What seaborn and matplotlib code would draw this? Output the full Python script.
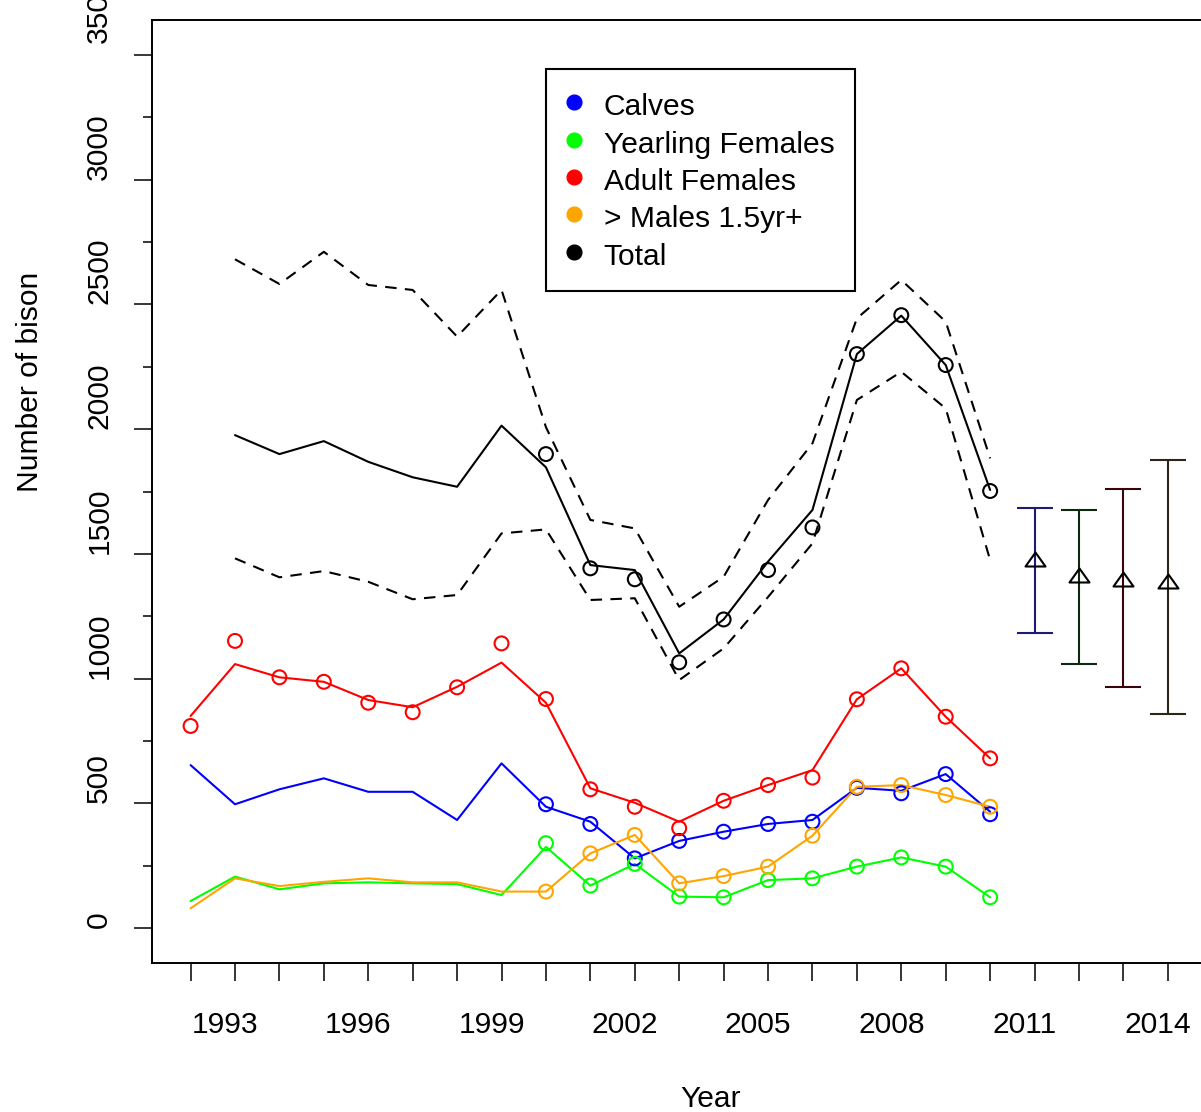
import numpy as np
import pandas as pd
import matplotlib
matplotlib.use("Agg")
import matplotlib.pyplot as plt
import seaborn as sns
from matplotlib.lines import Line2D
from matplotlib.path import Path
from matplotlib.ticker import FixedLocator
from matplotlib.transforms import ScaledTranslation

# ---------------- data ----------------
years_all = list(range(1992, 2011))          # 1992..2010
years_total = list(range(1993, 2011))        # 1993..2010
years_obs = list(range(2000, 2011))          # 2000..2010

calves_line = [653, 496, 556, 600, 546, 546, 433, 660, 486, 426, 279, 349, 386, 417, 433, 562, 550, 617, 466]
calves_obs = [496, 417, 279, 349, 386, 417, 426, 562, 540, 617, 456]

yearling_line = [108, 206, 155, 179, 183, 179, 176, 132, 325, 170, 257, 126, 123, 192, 199, 246, 283, 246, 123]
yearling_obs = [340, 170, 257, 126, 123, 192, 199, 246, 283, 246, 123]

adult_line = [850, 1058, 1005, 987, 914, 885, 967, 1064, 903, 560, 502, 426, 510, 573, 633, 917, 1041, 847, 680]
adult_obs = [810, 1151, 1005, 987, 903, 865, 965, 1141, 918, 556, 486, 400, 510, 573, 603, 917, 1041, 847, 680]

males_line = [79, 199, 168, 185, 199, 183, 183, 146, 146, 299, 373, 179, 208, 246, 370, 566, 573, 533, 486]
males_obs = [146, 299, 373, 179, 208, 246, 370, 566, 573, 533, 486]

total_line = [1976, 1900, 1952, 1869, 1807, 1769, 2014, 1847, 1455, 1435, 1101, 1237, 1469, 1676, 2301, 2455, 2257, 1756]
total_upper = [2681, 2582, 2711, 2578, 2558, 2371, 2558, 2008, 1636, 1602, 1288, 1408, 1716, 1943, 2444, 2598, 2431, 1883]
total_lower = [1482, 1406, 1431, 1388, 1318, 1335, 1582, 1598, 1315, 1322, 994, 1121, 1327, 1542, 2117, 2230, 2083, 1475]
total_obs = [1900, 1442, 1398, 1065, 1237, 1435, 1606, 2301, 2457, 2257, 1752]

proj_years = [2011, 2012, 2013, 2014]
proj_mean = [1480, 1415, 1400, 1392]
proj_low = [1181, 1057, 965, 857]
proj_high = [1683, 1676, 1760, 1876]
proj_bar_colors = ["#1c1c74", "#0c2a0e", "#3a0508", "#2c2618"]
proj_cap_colors = ["#1c1c74", "#2f6a32", "#6a0a16", "#5a4c32"]

legend_labels = ["Calves", "Yearling Females", "Adult Females", "> Males 1.5yr+", "Total"]
legend_colors = ["#0000FF", "#00FF00", "#FF0000", "#FFA500", "#000000"]

tick_years = list(range(1992, 2015))
label_years = [1993, 1996, 1999, 2002, 2005, 2008, 2011, 2014]
y_major = list(range(0, 3501, 500))
y_minor = list(range(250, 3251, 500))

# ---------------- style ----------------
sns.set_theme(style="ticks", rc={
    "axes.edgecolor": "black", "text.color": "black", "axes.labelcolor": "black",
    "xtick.color": "black", "ytick.color": "black",
})
plt.rcParams["font.family"] = ["Liberation Sans", "DejaVu Sans"]
FS = 21.6

W, H = 1201, 1112
fig = plt.figure(figsize=(W / 100, H / 100), dpi=100)
ax = fig.add_axes([151.5 / W, (H - 962.9) / H, 1055.4 / W, 942.8 / H])

LW = 1.5
MS = 100  # circle marker area (pt^2)

series = [
    (years_all, calves_line, years_obs, calves_obs, "#0000FF"),
    (years_all, yearling_line, years_obs, yearling_obs, "#00FF00"),
    (years_all, adult_line, years_all, adult_obs, "#FF0000"),
    (years_all, males_line, years_obs, males_obs, "#FFA500"),
]

# Total: model line, confidence band (dashed) and observed counts
df_tot = pd.DataFrame({"year": years_total, "mid": total_line, "up": total_upper, "lo": total_lower})
sns.lineplot(data=df_tot, x="year", y="up", ax=ax, color="black", lw=LW,
             linestyle=(0, (5.5, 4)), legend=False)
sns.lineplot(data=df_tot, x="year", y="lo", ax=ax, color="black", lw=LW,
             linestyle=(0, (5.5, 4)), legend=False)
sns.lineplot(data=df_tot, x="year", y="mid", ax=ax, color="black", lw=LW, legend=False)
sns.scatterplot(x=years_obs, y=total_obs, ax=ax, s=MS, marker="o",
                facecolor="none", edgecolor="black", linewidth=LW, legend=False, zorder=3)

for xl, yl, xo, yo, c in series:
    sns.lineplot(x=xl, y=yl, ax=ax, color=c, lw=LW, legend=False)
    sns.scatterplot(x=xo, y=yo, ax=ax, s=MS, marker="o",
                    facecolor="none", edgecolor=c, linewidth=LW, legend=False, zorder=3)

# projections with intervals
for x, m, lo, hi, bc, cc in zip(proj_years, proj_mean, proj_low, proj_high,
                                proj_bar_colors, proj_cap_colors):
    eb = ax.errorbar([x], [m], yerr=[[m - lo], [hi - m]], fmt="none", ecolor=bc,
                     elinewidth=LW, capsize=13.3, capthick=LW)
    for cap in eb[1]:
        cap.set_color(cc)

tri = Path([(-1, -0.7), (1, -0.7), (0, 0.7), (-1, -0.7)],
           [Path.MOVETO, Path.LINETO, Path.LINETO, Path.CLOSEPOLY])
ax.plot(proj_years, proj_mean, linestyle="none", marker=tri, markersize=14.4,
        markerfacecolor="none", markeredgecolor="black", markeredgewidth=LW, zorder=4)

# ---------------- axes ----------------
ax.set_xlim(1991.12, 2014.88)
ax.set_ylim(-140, 3640)

ax.xaxis.set_major_locator(FixedLocator([y - 0.225 for y in label_years]))
ax.set_xticklabels([str(y) for y in label_years])
ax.xaxis.set_minor_locator(FixedLocator(tick_years))
ax.tick_params(axis="x", which="major", length=0, pad=34.5, labelsize=FS, bottom=True)
ax.tick_params(axis="x", which="minor", length=13, width=1.1, direction="out", bottom=True)

ax.yaxis.set_major_locator(FixedLocator(y_major))
ax.set_yticklabels([str(v) for v in y_major])
ax.yaxis.set_minor_locator(FixedLocator(y_minor))
ax.tick_params(axis="y", which="major", length=13, width=1.1, direction="out",
               pad=14.5, labelsize=FS, left=True)
ax.tick_params(axis="y", which="minor", length=6.5, width=1.1, direction="out", left=True)
ylabs = ax.get_yticklabels()
plt.setp(ylabs, rotation=90, va="bottom", ha="right")
# the top label sits a little higher in the reference (and is clipped by the figure edge)
ylabs[-1].set_transform(ylabs[-1].get_transform() +
                        ScaledTranslation(0, 0.12, fig.dpi_scale_trans))

for s in ax.spines.values():
    s.set_visible(True)
    s.set_linewidth(1.4)
    s.set_color("black")

ax.set_xlabel("Year", fontsize=FS, ha="left")
ax.xaxis.set_label_coords(0.5008, -0.1295)
ax.set_ylabel("Number of bison", fontsize=FS, ha="left")
ax.yaxis.set_label_coords(-0.1015, 0.5)

# ---------------- legend ----------------
handles = [Line2D([0], [0], marker="o", linestyle="none", markersize=10.6,
                  markerfacecolor=c, markeredgecolor=c) for c in legend_colors]
leg = ax.legend(handles, legend_labels, loc="upper left",
                bbox_to_anchor=(546 / W, 1 - 69 / H), bbox_transform=fig.transFigure,
                borderaxespad=0, frameon=True, fancybox=False, edgecolor="black",
                framealpha=1, fontsize=FS, borderpad=0.68, handleheight=1.25,
                labelspacing=0.18, handlelength=0.5, handletextpad=0.74)
leg.get_frame().set_linewidth(1.5)

fig.savefig("out.png", dpi=100)
